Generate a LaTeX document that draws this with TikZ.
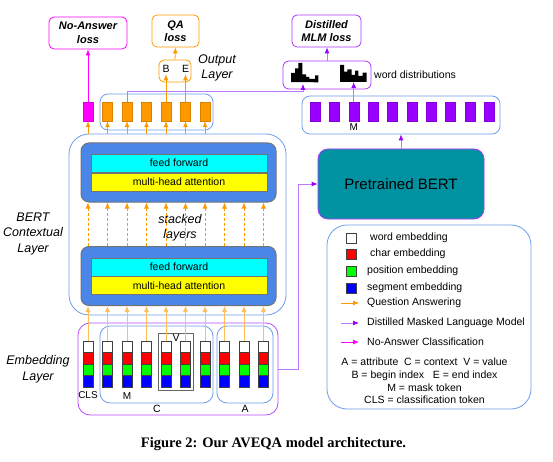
\documentclass[tikz,border=0pt]{standalone}
\usepackage{fontspec}
\setmainfont{Liberation Sans}
\newfontfamily\figcapfont{Liberation Serif}
\usetikzlibrary{calc,positioning,fit}
\usetikzlibrary{shapes,arrows,arrows.meta}

\definecolor{qaorange}{RGB}{255,153,0}
\definecolor{qaline}{RGB}{255,190,90}
\definecolor{namagenta}{RGB}{255,0,255}
\definecolor{mlmpurple}{RGB}{153,0,255}
\definecolor{mlmline}{RGB}{190,120,255}
\definecolor{grpblue}{RGB}{109,158,235}
\definecolor{layerblue}{RGB}{74,134,232}
\definecolor{bertteal}{RGB}{0,146,160}
\definecolor{ffcyan}{RGB}{0,255,255}
\definecolor{mhyellow}{RGB}{255,255,0}
\definecolor{embred}{RGB}{255,0,0}
\definecolor{embgreen}{RGB}{0,255,0}
\definecolor{embblue}{RGB}{0,0,255}

\tikzset{
  txt/.style={font=\fontsize{10.5}{12.7}\selectfont, inner sep=0pt},
  lbl/.style={font=\fontsize{12.5}{15.5}\selectfont\itshape, align=center, inner sep=0pt},
  grp/.style={draw=grpblue, line width=0.8pt, rounded corners=#1},
  grp/.default=8pt,
  lossbox/.style={draw=#1, line width=0.8pt, rounded corners=5pt, align=center,
    font=\fontsize{11}{13.5}\selectfont\bfseries\itshape, inner sep=0pt},
  bar/.style={draw=#1!85!black, fill=#1, minimum width=10pt, minimum height=19pt, inner sep=0pt},
  cell/.style={draw=black!75, fill=#1, minimum width=10pt, minimum height=11.5pt, inner sep=0pt},
  sublayer/.style={draw=black!55, fill=#1, minimum width=176pt, minimum height=18pt, txt},
  block/.style={draw=black!55, fill=layerblue, line width=1pt, rounded corners=8pt,
    minimum width=195pt, minimum height=59pt, inner sep=0pt},
  qa/.style={draw=qaorange, line width=0.8pt, -{Latex[length=6pt,width=5pt]}},
  mlm/.style={draw=mlmline, line width=0.8pt, -{Latex[length=6pt,width=5pt,color=mlmpurple]}},
  na/.style={draw=namagenta, line width=0.8pt, -{Latex[length=6pt,width=5pt]}},
}

\begin{document}
\begin{tikzpicture}[x=1pt,y=-1pt]
\useasboundingbox (0,0) rectangle (553,462);
\fill[white] (0,0) rectangle (553,462);

% embedding layer
\node[draw=mlmpurple!70, line width=0.8pt, rounded corners=12pt, minimum width=200pt, minimum height=92pt] (ebox) at (178,369) {};
\node[grp=10pt, minimum width=113pt, minimum height=77pt] (cbox) at (156.5,364.5) {};
\node[grp=10pt, minimum width=56pt, minimum height=77pt] (abox) at (245,364.5) {};
\node[draw=black!60, line width=0.8pt, minimum width=35pt, minimum height=57pt] (vbox) at (175.5,361.5) {};

\foreach \i in {1,...,10}{
  \node[cell=white]    (w\i) at ({88+19.5*(\i-1)},346.75) {};
  \node[cell=embred]   (r\i) at ({88+19.5*(\i-1)},358.25) {};
  \node[cell=embgreen] (g\i) at ({88+19.5*(\i-1)},369.75) {};
  \node[cell=embblue]  (b\i) at ({88+19.5*(\i-1)},381.25) {};
}
\node[txt, font=\fontsize{10}{12}\selectfont] (clslbl) at (88,395) {CLS};
\node[txt, font=\fontsize{10}{12}\selectfont] (mlbl) at (127,396) {M};
\node[txt] (vlbl) at (176,338) {V};
\node[txt] (clbl) at (157,409) {C};
\node[txt] (albl) at (245,409) {A};
\node[lbl] (emblbl) at (38,369.5) {Embedding\\Layer};

% BERT contextual layer
\node[grp=20pt, minimum width=217pt, minimum height=181pt] (ctx) at (177.5,224.5) {};
\node[block] (up) at (178.5,172.5) {};
\node[sublayer=ffcyan] (ff1) at (179,163) {feed forward};
\node[sublayer=mhyellow] (mh1) at (179,182) {multi-head attention};
\node[block] (low) at (178.5,276) {};
\node[sublayer=ffcyan] (ff2) at (179,267) {feed forward};
\node[sublayer=mhyellow] (mh2) at (179,285.5) {multi-head attention};
\node[lbl] (stack) at (180,228) {stacked\\layers};
\node[lbl] (ctxlbl) at (33,233.5) {BERT\\Contextual\\Layer};

\foreach \i in {1,...,10}{
  \draw[qa, draw=qaline] (w\i.north) -- (w\i |- low.south);
  \draw[qa, dash pattern=on 3pt off 2pt] (w\i |- low.north) -- (w\i |- up.south);
}

% output layer
\node[grp=8pt, minimum width=113pt, minimum height=36pt] (obox) at (156.5,112) {};
\node[bar=namagenta] (o1) at (88,111.5) {};
\foreach \i in {2,...,7}
  \node[bar=qaorange] (o\i) at ({88+19.5*(\i-1)},111.5) {};
\foreach \i in {1,...,7}
  \draw[qa] (o\i |- ctx.north) -- (o\i.south);

\node[draw=qaorange, line width=0.8pt, rounded corners=5pt, minimum width=32pt, minimum height=22pt] (bebox) at (175,71) {};
\node[txt, inner sep=1.5pt] (bidx) at (166,69) {B};
\node[txt, inner sep=1.5pt] (eidx) at (185.5,69) {E};
\draw[qa] (o5.north) -- (bidx.south);
\draw[qa] (o6.north) -- (eidx.south);
\node[lbl] (outlbl) at (217,68) {Output\\Layer};

% losses
\node[lossbox=namagenta, minimum width=78pt, minimum height=32pt] (naloss) at (88,33) {No-Answer\\loss};
\node[lossbox=qaorange, minimum width=47pt, minimum height=32pt] (qaloss) at (175.5,31) {QA\\loss};
\node[lossbox=mlmpurple!80, minimum width=69pt, minimum height=32pt] (dmlm) at (326.5,31) {Distilled\\MLM loss};
\draw[na] (o1.north) -- (naloss.south);
\draw[qa] (bebox.north) -- (qaloss.south);

% pretrained BERT (teacher)
\node[draw=mlmpurple!80, fill=bertteal, line width=0.8pt, rounded corners=10pt, minimum width=166pt, minimum height=70pt,
  font=\fontsize{15}{18}\selectfont] (pbert) at (401,184) {Pretrained BERT};
\draw[mlm] (ebox.east) -- ++(20,0) |- (pbert.west);

\node[grp=8pt, minimum width=198pt, minimum height=38pt] (mbox) at (401,115) {};
\foreach \j in {1,...,10}
  \node[bar=mlmpurple] (m\j) at ({315+19.35*(\j-1)},111.5) {};
\node[txt, font=\fontsize{10}{12}\selectfont] (mtok) at (353.7,127) {M};
\draw[mlm] (pbert.north) -- (pbert.north |- mbox.south);

% word distributions
\node[draw=mlmpurple!80, line width=0.8pt, rounded corners=6pt, minimum width=88pt, minimum height=28pt] (wdbox) at (327,75) {};
\node[txt, anchor=west] (wdlbl) at (374,75) {word distributions};
\coordinate (hA) at (291,82);
\coordinate (hB) at (340,82);
\fill[black] (hA) -- ++(0,-9) -- ++(4,0) -- ++(0,-4.5) -- ++(3.3,0) -- ++(0,-5.5) -- ++(4,0)
  -- ++(0,11.3) -- ++(3.7,0) -- ++(0,2.7) -- ++(3.3,0) -- ++(0,2) -- ++(5.7,0)
  -- ++(0,-3.7) -- ++(3.3,0) -- ++(0,7) -- cycle;
\fill[black] (hB) -- ++(0,-17) -- ++(4,0) -- ++(0,6.7) -- ++(3.3,0) -- ++(0,-2.4) -- ++(4.4,0)
  -- ++(0,5.7) -- ++(3.3,0) -- ++(0,-4.3) -- ++(3.3,0) -- ++(0,5.3) -- ++(4.4,0)
  -- ++(0,-3.3) -- ++(4,0) -- ++(0,9.3) -- cycle;
\coordinate (hAin) at (303,84);
\coordinate (bend) at (303,91);
\draw[mlm] (o3.north) |- (bend) -- (hAin);
\draw[mlm] (m3.north) -- (m3.north |- hB);
\draw[mlm] (wdbox.north) -- (wdbox.north |- dmlm.south);

% legend
\node[grp=20pt, minimum width=204pt, minimum height=184pt] (legbox) at (429,317) {};
\node[cell=white, minimum height=10pt] (lw) at (351,238) {};
\node[cell=embred, minimum height=10pt] (lr) at (351,254) {};
\node[cell=embgreen, minimum height=10pt] (lg) at (351,271) {};
\node[cell=embblue, minimum height=10pt] (lb) at (351,288) {};
\node[txt, anchor=west] (lwt) at (370,238) {word embedding};
\node[txt, anchor=west] (lrt) at (370,254) {char embedding};
\node[txt, anchor=west] (lgt) at (367,271) {position embedding};
\node[txt, anchor=west] (lbt) at (367,288) {segment embedding};
\coordinate (lqa) at (341,303);
\coordinate (lmlm) at (341,323);
\coordinate (lna) at (341,342);
\draw[qa] (lqa) -- ++(18,0);
\draw[mlm] (lmlm) -- ++(18,0);
\draw[na] (lna) -- ++(18,0);
\node[txt, anchor=west] (lqat) at (367,303) {Question Answering};
\node[txt, anchor=west] (lmlmt) at (367,323) {Distilled Masked Language Model};
\node[txt, anchor=west] (lnat) at (367,342) {No-Answer Classification};
\node[txt, align=center] (abbr) at (424.5,381) {A = attribute~~C = context~~V = value\\
  B = begin index~~~E = end index\\M = mask token\\CLS = classification token};

% caption
\node[inner sep=0pt, font=\figcapfont\bfseries\fontsize{14.5}{16}\selectfont] (cap) at (273.5,444) {Figure 2: Our AVEQA model architecture.};
\end{tikzpicture}
\end{document}
